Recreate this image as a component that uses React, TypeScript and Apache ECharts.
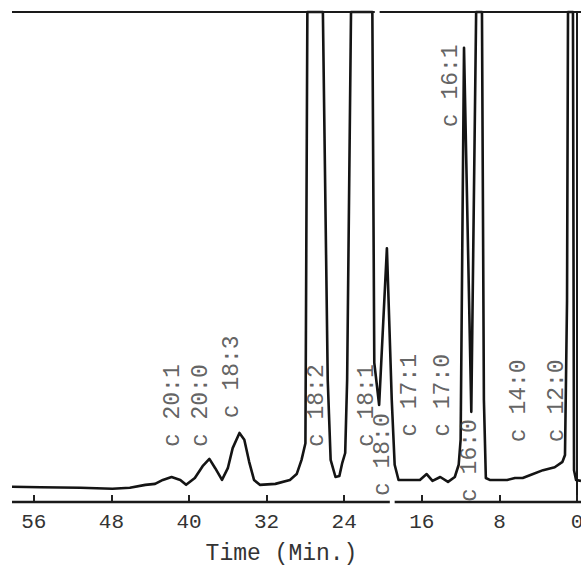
import React, { useEffect, useRef } from "react";
import * as echarts from "echarts";

// Chromatogram trace: retention time (min) and detector signal (% of full scale)
const traceTime = [
  58.25, 55.3, 51.2, 47.9, 46.1, 44.5, 43.5, 42.7, 41.8, 40.9, 40.3, 39.4, 38.6, 37.9, 37.3,
  36.6, 36.0, 35.5, 34.8, 34.3, 33.8, 33.3, 32.7, 31.1, 29.6, 28.9, 28.4, 28.0, 27.8, 26.2,
  25.7, 25.4, 24.9, 24.5, 24.2, 23.9, 23.7, 23.3, 21.1, 20.9, 20.4, 19.6, 19.1, 18.8, 18.4,
  17.7, 16.2, 15.5, 14.9, 14.1, 13.3, 12.6, 12.2, 12.0, 11.65, 10.9, 10.4, 9.8, 9.6, 9.4,
  9.0, 7.9, 7.2, 6.4, 5.6, 4.8, 3.5, 2.3, 1.5, 1.24, 1.03, 0.93, 0.42, 0.31, 0.1, -0.41,
];
const traceSignal = [
  3.1, 3.0, 2.9, 2.7, 2.9, 3.5, 3.7, 4.5, 5.1, 4.5, 3.5, 4.9, 7.3, 8.8, 6.9,
  4.5, 6.9, 11.0, 14.1, 12.7, 8.2, 4.5, 3.5, 3.7, 4.5, 5.7, 8.6, 12.0, 100, 100,
  24.9, 8.6, 5.1, 5.3, 8.0, 10.0, 24.9, 100, 100, 28.4, 19.8, 51.8, 20.8, 7.6, 4.5,
  4.5, 4.5, 5.7, 4.3, 5.1, 4.1, 5.1, 7.6, 12.7, 92.7, 18.4, 100, 100, 20.8, 4.9,
  4.5, 4.5, 4.5, 4.9, 4.9, 5.5, 6.5, 7.1, 8.2, 9.6, 41, 100, 100, 6.5, 4.5, 4.3,
];

// Peak identifications (label anchor = time, signal level at label start)
const peakNames = [
  "c 20:1", "c 20:0", "c 18:3", "c 18:2", "c 18:1", "c 18:0",
  "c 17:1", "c 17:0", "c 16:1", "c 16:0", "c 14:0", "c 12:0",
];
const peakLabelTime = [41.65, 38.76, 35.57, 26.8, 21.65, 20.0, 17.2, 13.8, 13.0, 11.0, 6.0, 2.1];
const peakLabelLevel = [11.2, 11.2, 17.1, 11.2, 11.2, 1.2, 13.3, 13.3, 76.5, 0.0, 12.2, 12.2];

// Axis ticks
const tickValues = [0, 8, 16, 24, 32, 40, 48, 56];
const axisMin = -0.41;
const axisMax = 58.25;

// Recorder frame pieces (paper splice gap around 19 min)
const topLineLeft = [axisMax, 20.85];
const topLineRight = [20.35, axisMin];
const baseLineLeft = [axisMax, 19.3];
const baseLineRight = [18.8, axisMin];
const fullScale = 100;

const FONT = "'Liberation Mono', 'DejaVu Sans Mono', monospace";

export default function App() {
  const ref = useRef<HTMLDivElement>(null);

  useEffect(() => {
    if (!ref.current) return;
    const chart = echarts.init(ref.current, undefined, {
      renderer: "svg",
      width: 581,
      height: 567,
    });

    const trace = traceTime.map((t, i) => [t, traceSignal[i]]);
    const seg = (pair: number[], y: number) => pair.map((t) => [t, y]);
    const frameStyle = { color: "#1a1a1a", width: 2 };

    chart.setOption({
      animation: false,
      backgroundColor: "#ffffff",
      grid: {
        left: 12,
        right: 0,
        top: 12,
        bottom: 65,
        containLabel: false,
        outerBoundsMode: "none",
      },
      xAxis: {
        type: "value",
        inverse: true,
        min: axisMin,
        max: axisMax,
        name: "Time (Min.)",
        nameLocation: "middle",
        nameGap: 40,
        nameTextStyle: {
          fontFamily: FONT,
          fontSize: 23,
          color: "#333",
          padding: [0, 30, 0, 0],
        },
        axisLine: { show: false },
        axisTick: {
          show: true,
          inside: true,
          length: 7,
          customValues: tickValues,
          lineStyle: { color: "#222", width: 2 },
        },
        axisLabel: {
          show: true,
          customValues: tickValues,
          fontFamily: FONT,
          fontSize: 21,
          color: "#333",
          margin: 10,
        },
        splitLine: { show: false },
      },
      yAxis: {
        type: "value",
        min: 0,
        max: fullScale,
        axisLine: { show: true, lineStyle: { color: "#1a1a1a", width: 2 } },
        axisTick: { show: false },
        axisLabel: { show: false },
        splitLine: { show: false },
      },
      series: [
        {
          type: "line",
          data: trace,
          symbol: "none",
          clip: false,
          lineStyle: { color: "#141414", width: 2.6, join: "round" },
          z: 3,
        },
        {
          type: "line",
          data: seg(topLineLeft, fullScale),
          symbol: "none",
          clip: false,
          lineStyle: frameStyle,
        },
        {
          type: "line",
          data: seg(topLineRight, fullScale),
          symbol: "none",
          clip: false,
          lineStyle: frameStyle,
        },
        {
          type: "line",
          data: seg(baseLineLeft, 0),
          symbol: "none",
          clip: false,
          lineStyle: { color: "#1a1a1a", width: 2.5 },
        },
        {
          type: "line",
          data: seg(baseLineRight, 0),
          symbol: "none",
          clip: false,
          lineStyle: { color: "#1a1a1a", width: 2.5 },
        },
        {
          type: "scatter",
          symbolSize: 0,
          clip: false,
          data: peakNames.map((n, i) => ({ name: n, value: [peakLabelTime[i], peakLabelLevel[i]] })),
          label: {
            show: true,
            formatter: "{b}",
            position: "inside",
            rotate: 90,
            align: "left",
            verticalAlign: "middle",
            fontFamily: FONT,
            fontSize: 23,
            color: "#3a3a3a",
          },
          z: 4,
        },
      ],
    });

    return () => chart.dispose();
  }, []);

  return (
    <div
      ref={ref}
      style={{ position: "absolute", left: 0, top: 0, width: 581, height: 567, background: "#fff" }}
    />
  );
}
